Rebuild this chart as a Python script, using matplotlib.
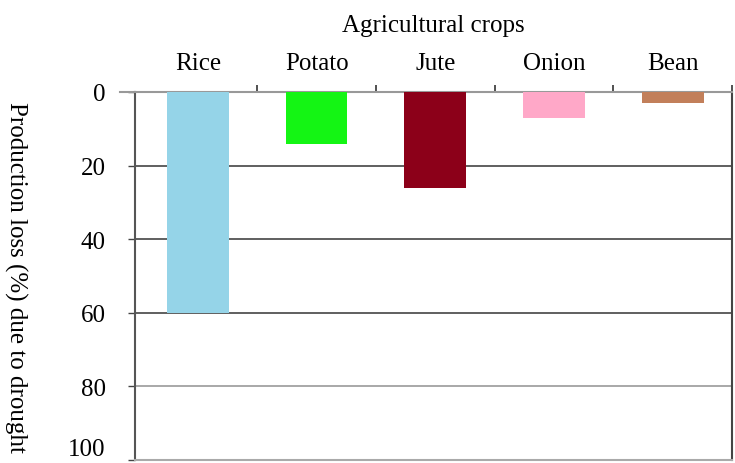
import matplotlib.pyplot as plt
import numpy as np

# Production loss due to drought, per crop
crops = ["Rice", "Potato", "Jute", "Onion", "Bean"]
loss = [60, 14, 26, 7, 3]
colors = ["#95D4E8", "#14F514", "#8C0019", "#FFA8C8", "#C27F5A"]
y_ticks = [0, 20, 40, 60, 80, 100]

plt.rcParams['font.family'] = ['Liberation Serif', 'DejaVu Serif']

fig = plt.figure(figsize=(7.35, 4.64), dpi=100)
ax = fig.add_axes([0.1837, 0.0065, 0.8122, 0.7931])

x = np.arange(len(crops))
ax.bar(x, loss, width=0.52, color=colors, zorder=3)

ax.set_ylim(100, 0)
ax.set_xlim(-0.53, 4.28)
ax.set_yticks(y_ticks)
ax.tick_params(axis='y', length=5, width=1, color='#444444', pad=16, labelsize=18)
# last label sits just above the bottom line
ax.get_yticklabels()[-1].set_va('bottom')

# categories on top, ticks between them
ax.xaxis.set_ticks_position('top')
ax.xaxis.set_label_position('top')
ax.set_xticks(x + 0.5, minor=False)
ax.set_xticklabels([])
ax.set_xticks(x, minor=True)
ax.set_xticklabels(crops, minor=True, fontsize=18)
ax.tick_params(axis='x', which='major', length=5, width=1.2, color='#333333', direction='out')
ax.tick_params(axis='x', which='minor', length=0, pad=13)
ax.set_xlabel("Agricultural crops", fontsize=18, labelpad=15)

ax.set_ylabel("Production loss (%) due to drought", fontsize=18, rotation=270)
ax.yaxis.set_label_coords(-0.22, 0.5)

for v in y_ticks[1:]:
    ax.axhline(v, color='#444444' if v < 80 else '#999999', lw=1.2, zorder=1)

ax.spines['top'].set_color('#999999')
ax.spines['top'].set_linewidth(1.5)
ax.plot([-0.025, 0], [1, 1], transform=ax.transAxes, color='#999999', lw=1.5, clip_on=False)
ax.spines['left'].set_color('#555555')
ax.spines['left'].set_linewidth(1.5)
ax.spines['right'].set_color('#444444')
ax.spines['right'].set_linewidth(1.5)
ax.spines['bottom'].set_color('#aaaaaa')
ax.spines['bottom'].set_linewidth(1.5)

fig.savefig("out.png", dpi=100)
